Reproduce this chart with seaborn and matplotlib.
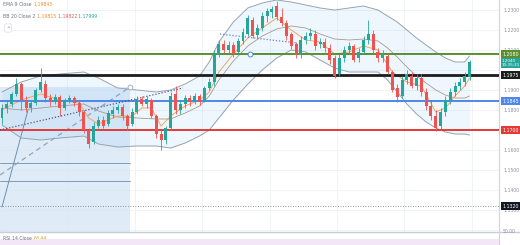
import numpy as np
import pandas as pd
import matplotlib
matplotlib.use("Agg")
import matplotlib.pyplot as plt
import seaborn as sns
from matplotlib.patches import Rectangle, Circle
from matplotlib.transforms import blended_transform_factory

# ---------------- data ----------------
opens = [1.1760, 1.1810, 1.1830, 1.1880, 1.1930, 1.1850, 1.1810, 1.1835, 1.1900, 1.1930,
         1.1860, 1.1840, 1.1865, 1.1810, 1.1850, 1.1860, 1.1835, 1.1790, 1.1700, 1.1640,
         1.1720, 1.1750, 1.1730, 1.1780, 1.1800, 1.1815, 1.1770, 1.1730, 1.1790, 1.1855,
         1.1830, 1.1850, 1.1770, 1.1680, 1.1650, 1.1710, 1.1880, 1.1800, 1.1830, 1.1860,
         1.1840, 1.1870, 1.1850, 1.1910, 1.1940, 1.2075, 1.2130, 1.2100, 1.2125, 1.2090,
         1.2145, 1.2180, 1.2250, 1.2175, 1.2210, 1.2270, 1.2290, 1.2320, 1.2265, 1.2235,
         1.2180, 1.2130, 1.2075, 1.2150, 1.2170, 1.2180, 1.2130, 1.2140, 1.2110, 1.2060,
         1.1980, 1.2060, 1.2100, 1.2120, 1.2060, 1.2090, 1.2150, 1.2180, 1.2090, 1.2060,
         1.2070, 1.1990, 1.1910, 1.1870, 1.1950, 1.1970, 1.1920, 1.1960, 1.1890, 1.1820,
         1.1770, 1.1720, 1.1790, 1.1850, 1.1890, 1.1920, 1.1940, 1.1965]
highs = [1.1830, 1.1850, 1.1890, 1.1960, 1.1940, 1.1870, 1.1850, 1.1910, 1.2010, 1.1950,
         1.1880, 1.1880, 1.1875, 1.1860, 1.1875, 1.1870, 1.1850, 1.1800, 1.1710, 1.1740,
         1.1770, 1.1770, 1.1800, 1.1820, 1.1830, 1.1830, 1.1780, 1.1810, 1.1870, 1.1870,
         1.1870, 1.1860, 1.1780, 1.1700, 1.1720, 1.1890, 1.1920, 1.1850, 1.1875, 1.1875,
         1.1885, 1.1880, 1.1920, 1.1960, 1.2100, 1.2150, 1.2150, 1.2145, 1.2140, 1.2160,
         1.2210, 1.2275, 1.2265, 1.2230, 1.2290, 1.2310, 1.2320, 1.2345, 1.2310, 1.2250,
         1.2190, 1.2140, 1.2170, 1.2190, 1.2210, 1.2200, 1.2160, 1.2160, 1.2130, 1.2075,
         1.2080, 1.2120, 1.2140, 1.2130, 1.2110, 1.2170, 1.2250, 1.2200, 1.2110, 1.2100,
         1.2080, 1.2000, 1.1930, 1.1970, 1.2000, 1.1990, 1.1980, 1.1980, 1.1910, 1.1850,
         1.1800, 1.1810, 1.1870, 1.1910, 1.1940, 1.1960, 1.1990, 1.2050]
lows = [1.1730, 1.1785, 1.1815, 1.1870, 1.1800, 1.1790, 1.1790, 1.1825, 1.1890, 1.1840,
        1.1820, 1.1830, 1.1770, 1.1800, 1.1835, 1.1820, 1.1770, 1.1685, 1.1610, 1.1630,
        1.1710, 1.1710, 1.1720, 1.1760, 1.1785, 1.1750, 1.1700, 1.1720, 1.1780, 1.1820,
        1.1810, 1.1760, 1.1660, 1.1600, 1.1630, 1.1700, 1.1780, 1.1780, 1.1810, 1.1820,
        1.1830, 1.1825, 1.1840, 1.1900, 1.1920, 1.2065, 1.2085, 1.2080, 1.2065, 1.2080,
        1.2130, 1.2170, 1.2160, 1.2160, 1.2195, 1.2240, 1.2260, 1.2250, 1.2220, 1.2150,
        1.2105, 1.2060, 1.2060, 1.2130, 1.2150, 1.2100, 1.2110, 1.2090, 1.2030, 1.1960,
        1.1970, 1.2040, 1.2085, 1.2040, 1.2040, 1.2080, 1.2130, 1.2080, 1.2040, 1.2040,
        1.1980, 1.1890, 1.1840, 1.1860, 1.1930, 1.1910, 1.1900, 1.1870, 1.1800, 1.1750,
        1.1695, 1.1700, 1.1770, 1.1830, 1.1870, 1.1900, 1.1920, 1.1950]
closes = [1.1810, 1.1830, 1.1880, 1.1930, 1.1850, 1.1810, 1.1835, 1.1900, 1.1940, 1.1860,
          1.1840, 1.1865, 1.1810, 1.1850, 1.1860, 1.1835, 1.1790, 1.1700, 1.1630, 1.1720,
          1.1750, 1.1720, 1.1785, 1.1800, 1.1815, 1.1770, 1.1720, 1.1790, 1.1855, 1.1830,
          1.1855, 1.1770, 1.1680, 1.1650, 1.1710, 1.1870, 1.1800, 1.1830, 1.1860, 1.1840,
          1.1870, 1.1840, 1.1910, 1.1940, 1.2075, 1.2130, 1.2100, 1.2125, 1.2080, 1.2145,
          1.2190, 1.2260, 1.2170, 1.2210, 1.2270, 1.2295, 1.2305, 1.2265, 1.2235, 1.2170,
          1.2120, 1.2075, 1.2150, 1.2170, 1.2185, 1.2120, 1.2140, 1.2110, 1.2050, 1.1970,
          1.2060, 1.2100, 1.2120, 1.2050, 1.2090, 1.2150, 1.2180, 1.2100, 1.2060, 1.2080,
          1.1990, 1.1900, 1.1865, 1.1950, 1.1980, 1.1920, 1.1960, 1.1890, 1.1820, 1.1770,
          1.1710, 1.1790, 1.1850, 1.1890, 1.1920, 1.1940, 1.1970, 1.2040]

band_idx = [0, 4, 8, 12, 17, 20, 24, 28, 32, 35, 38, 41, 43, 45, 48, 51, 54, 57, 60, 63,
            66, 69, 72, 75, 78, 80, 82, 84, 86, 88, 90, 92, 94, 96, 97]
bb_upper = [1.1890, 1.1940, 1.1970, 1.1980, 1.1990, 1.1960, 1.1910, 1.1900, 1.1890, 1.1900,
            1.1930, 1.1970, 1.2040, 1.2140, 1.2240, 1.2310, 1.2335, 1.2350, 1.2340, 1.2325,
            1.2310, 1.2300, 1.2310, 1.2320, 1.2300, 1.2270, 1.2240, 1.2200, 1.2160, 1.2125,
            1.2090, 1.2060, 1.2040, 1.2040, 1.2070]
bb_lower = [1.1725, 1.1660, 1.1650, 1.1660, 1.1670, 1.1630, 1.1615, 1.1620, 1.1620, 1.1610,
            1.1635, 1.1670, 1.1700, 1.1760, 1.1850, 1.1930, 1.2000, 1.2060, 1.2100, 1.2090,
            1.2050, 1.2010, 1.1990, 1.1990, 1.1990, 1.1950, 1.1890, 1.1830, 1.1780, 1.1740,
            1.1710, 1.1690, 1.1680, 1.1680, 1.1675]
bb_basis = [1.1810, 1.1800, 1.1810, 1.1820, 1.1830, 1.1795, 1.1765, 1.1760, 1.1755, 1.1755,
            1.1785, 1.1820, 1.1870, 1.1950, 1.2045, 1.2120, 1.2170, 1.2205, 1.2220, 1.2210,
            1.2180, 1.2155, 1.2150, 1.2155, 1.2145, 1.2110, 1.2065, 1.2015, 1.1970, 1.1935,
            1.1900, 1.1875, 1.1860, 1.1860, 1.1870]

ema_idx = [0, 4, 8, 12, 16, 18, 20, 24, 27, 29, 31, 33, 35, 38, 41, 43, 45, 48, 51, 54,
           57, 60, 63, 66, 69, 72, 75, 78, 81, 84, 87, 90, 92, 94, 96, 97]
ema9 = [1.1800, 1.1850, 1.1880, 1.1850, 1.1835, 1.1760, 1.1730, 1.1770, 1.1770, 1.1810,
        1.1810, 1.1720, 1.1770, 1.1820, 1.1850, 1.1890, 1.1990, 1.2080, 1.2160, 1.2210,
        1.2260, 1.2200, 1.2150, 1.2140, 1.2080, 1.2090, 1.2120, 1.2100, 1.1990, 1.1940,
        1.1920, 1.1790, 1.1810, 1.1870, 1.1920, 1.1960]

level_prices = [1.2080, 1.1975, 1.1845, 1.1700]
level_labels = ["1.2080", "1.1975", "1.1845", "1.1700"]
level_colors = ["#5a8f2e", "#1c1c1c", "#4f86e8", "#e53935"]
level_widths = [1.4, 2.0, 1.4, 1.4]

tick_prices = [1.2300, 1.2200, 1.2100, 1.1900, 1.1800, 1.1600, 1.1500, 1.1400, 1.1300]
alert_price = 1.1320
last_label = "1.2040"
countdown = "10:35:21"

ema_legend = ["EMA 9 Close", "1.19843"]
bb_legend = ["BB 20 Close 2", "1.19815", "1.19822", "1.17999"]
rsi_legend = ["RSI 14 Close", "63.44"]

# ---------------- figure ----------------
sns.set_theme(style="white")
plt.rcParams['font.family'] = ['DejaVu Sans']

W, H = 520, 245
fig = plt.figure(figsize=(W / 100, H / 100), dpi=100)
fig.patch.set_facecolor("white")
plot_w, plot_h = 499, 232
ax = fig.add_axes([0, (H - plot_h) / H, plot_w / W, plot_h / H])

step = 4.82
xmin = -2 / step
xmax = xmin + plot_w / step
ymax = 1.235
ymin = ymax - plot_h / 2000.0
ax.set_xlim(xmin, xmax)
ax.set_ylim(ymin, ymax)

def px2x(px):
    return xmin + px / step

def px2y(py):
    return ymax - py / 2000.0

# grid
for p in np.arange(1.12, 1.2351, 0.01):
    ax.axhline(p, color="#eef1f6", lw=0.6, zorder=0)
for gx in [13.5, 27.5, 41.5, 55.5, 69.5, 83.5, 97.5]:
    ax.axvline(gx, color="#eef1f6", lw=0.6, zorder=0)

# blue projection box and its lines
ax.add_patch(Rectangle((xmin, ymin), px2x(130) - xmin, px2y(87) - ymin,
                       facecolor="#d5e6f6", edgecolor="none", alpha=0.75, zorder=0.5))
for py in [163, 181]:
    ax.plot([xmin, px2x(130)], [px2y(py), px2y(py)], color="#7f9cbc", lw=0.7, zorder=1)
ax.plot([xmin, px2x(130)], [px2y(175), px2y(87)], color="#8ea6c2", lw=0.9,
        ls=(0, (4, 3)), zorder=1)
ax.plot([px2x(2), px2x(28)], [px2y(207), px2y(110)], color="#6f8fb3", lw=0.7, zorder=1)
ax.add_patch(Circle((px2x(130), px2y(87)), 0.0, fill=False))
ax.plot([px2x(130)], [px2y(87)], marker="o", ms=3.5, mfc="white", mec="#9aa8b8", mew=0.6, zorder=5)

# Bollinger bands
bb = pd.DataFrame({"idx": band_idx, "upper": bb_upper, "lower": bb_lower, "basis": bb_basis})
ax.fill_between(bb["idx"], bb["lower"], bb["upper"], color="#2196f3", alpha=0.07, lw=0, zorder=1)
sns.lineplot(data=bb, x="idx", y="upper", ax=ax, color="#97a3ae", lw=0.7, zorder=2)
sns.lineplot(data=bb, x="idx", y="lower", ax=ax, color="#97a3ae", lw=0.7, zorder=2)
sns.lineplot(data=bb, x="idx", y="basis", ax=ax, color="#a89a90", lw=0.6, zorder=2)
ema = pd.DataFrame({"idx": ema_idx, "ema": ema9})
sns.lineplot(data=ema, x="idx", y="ema", ax=ax, color="#f2a65e", lw=0.7, zorder=2)

# key levels
for p, c, w in zip(level_prices, level_colors, level_widths):
    ax.axhline(p, color=c, lw=w, zorder=3)
ax.axhline(alert_price, color="#6b7280", lw=0.6, ls=(0, (1, 2)), zorder=3)

# trend lines
ax.plot([xmin, px2x(183)], [px2y(130), px2y(88)], color="#5d5080", lw=0.9,
        ls=(0, (1, 1.5)), zorder=3)
ax.plot([px2x(220), px2x(297)], [px2y(34), px2y(43)], color="#6f7fb8", lw=0.9,
        ls=(0, (1, 1.5)), zorder=3)
ax.plot([px2x(250)], [px2y(54)], marker="o", ms=3.5, mfc="white", mec="#4f86e8", mew=0.7, zorder=6)

# candles
n = len(closes)
x = np.arange(n)
o = np.array(opens); c = np.array(closes); h = np.array(highs); l = np.array(lows)
up = c >= o
cols = np.where(up, "#26a69a", "#ef5350")
ax.vlines(x, l, h, colors=cols, lw=0.6, zorder=4)
body = np.maximum(np.abs(c - o), 0.0004)
ax.bar(x, body, bottom=np.minimum(o, c), width=0.62, color=cols, lw=0, zorder=4.5)

# axes styling
for s in ["top", "left", "bottom"]:
    ax.spines[s].set_visible(False)
ax.spines["right"].set_color("#d1d4dc")
ax.spines["right"].set_linewidth(0.8)
ax.set_xticks([])
ax.yaxis.tick_right()
ax.set_yticks(tick_prices)
ax.set_yticklabels([f"{t:.4f}" for t in tick_prices])
ax.tick_params(axis="y", length=0, pad=3, labelsize=3.3, labelcolor="#8a8f99")
ax.set_xlabel(""); ax.set_ylabel("")

tr = blended_transform_factory(ax.transAxes, ax.transData)
for p, lab, col in zip(level_prices, level_labels, level_colors):
    ax.text(1.006, p, lab, transform=tr, ha="left", va="center", fontsize=3.4,
            color="white", clip_on=False, zorder=10,
            bbox=dict(boxstyle="square,pad=0.3", fc=col, ec="none"))
ax.text(1.006, closes[-1] - 0.0005, last_label + "\n" + countdown, transform=tr, ha="left",
        va="center", fontsize=3.0, color="white", linespacing=1.1, clip_on=False, zorder=10,
        bbox=dict(boxstyle="square,pad=0.3", fc="#26a69a", ec="none"))
ax.text(1.006, alert_price, "1.1320", transform=tr, ha="left", va="center", fontsize=3.4,
        color="white", clip_on=False, zorder=10,
        bbox=dict(boxstyle="square,pad=0.3", fc="#131722", ec="none"))

# legend texts (top-left)
t1 = fig.text(3 / W, 1 - 5 / H, ema_legend[0] + " ", fontsize=3.3, color="#6b7280", va="center")
fig.canvas.draw()
ax.annotate(ema_legend[1], xy=(1, 0.5), xycoords=t1, va="center", fontsize=3.3,
            color="#f08c2e", annotation_clip=False)
t2 = fig.text(3 / W, 1 - 16 / H, bb_legend[0] + " ", fontsize=3.3, color="#6b7280", va="center")
prev = t2
for val, col in zip(bb_legend[1:], ["#f08c2e", "#e05a5a", "#26a69a"]):
    prev = ax.annotate(val + " ", xy=(1, 0.5), xycoords=prev, va="center", fontsize=3.3,
                       color=col, annotation_clip=False)
fig.text(8 / W, 1 - 28 / H, "^", fontsize=3.3, color="#6b7280", va="center", ha="center",
         bbox=dict(boxstyle="round,pad=0.35", fc="white", ec="#d1d4dc", lw=0.4))

# RSI pane
rax = fig.add_axes([0, 0, plot_w / W, (H - plot_h) / H])
rax.set_xlim(0, plot_w); rax.set_ylim(0, H - plot_h)
rax.axis("off")
rax.axhspan(0, 6, color="#f3e6f7", lw=0)
fig.add_artist(plt.Line2D([0, 1], [(H - plot_h) / H] * 2, color="#c9ccd4", lw=1.0))
r1 = fig.text(3 / W, 6.5 / H, rsi_legend[0] + " ", fontsize=3.3, color="#6b7280", va="center")
ax.annotate(rsi_legend[1], xy=(1, 0.5), xycoords=r1, va="center", fontsize=3.3,
            color="#d4a020", annotation_clip=False)
fig.text((plot_w + 4) / W, 1 - 231 / H, "50.00", fontsize=3.3, color="#8a8f99", va="center")
fig.add_artist(plt.Line2D([plot_w / W] * 2, [0, (H - plot_h) / H], color="#d1d4dc", lw=0.8))

fig.savefig("out.png", dpi=100)
